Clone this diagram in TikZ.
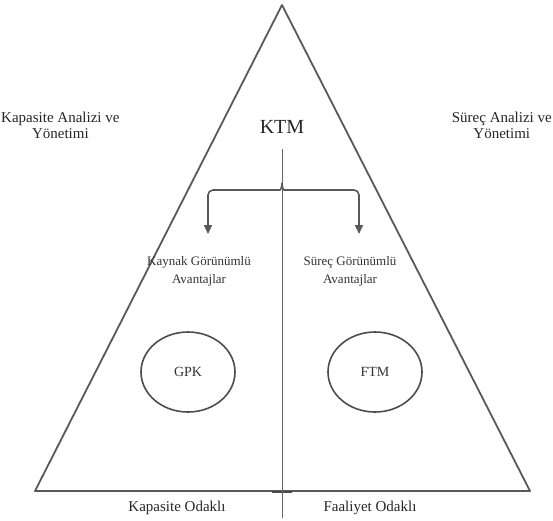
\documentclass[tikz,border=0pt]{standalone}
\usepackage{fontspec}
\setmainfont{Liberation Serif}
\usetikzlibrary{arrows.meta,shapes.geometric}
\begin{document}
\begin{tikzpicture}[x=1pt,y=-1pt,
  tri/.style={draw=black!65, line width=1.8pt, line join=round},
  axis/.style={draw=black!60, line width=0.9pt},
  brk/.style={draw=black!65, line width=1.6pt, rounded corners=5pt, -{Triangle[length=9pt,width=8pt]}},
  lbl/.style={font=\fontsize{13}{18}\selectfont, text=black!80, align=center, inner sep=0pt},
  side/.style={font=\fontsize{15}{16}\selectfont, text=black!85, align=center, inner sep=0pt},
  base/.style={font=\fontsize{15}{16}\selectfont, text=black!85, inner sep=0pt},
  circ/.style={ellipse, draw=black!70, line width=1.6pt, minimum width=94pt, minimum height=80pt, font=\fontsize{14}{16}\selectfont, text=black!80}]
\useasboundingbox (0,0) rectangle (553,520);
% triangle
\coordinate (apex) at (282,5);
\coordinate (bl) at (35,491);
\coordinate (br) at (530,491);
\draw[tri] (apex) -- (br) -- (bl) -- cycle;
% center mark on base
\coordinate (m1) at (272,492);
\coordinate (m2) at (292,492);
\draw[draw=black!70, line width=2.6pt] (m1) -- (m2);
% KTM
\node[font=\fontsize{20}{22}\selectfont, text=black!85, inner sep=0pt] (ktm) at (282,127) {KTM};
\coordinate (top) at (282,149);
\coordinate (bot) at (282,518);
\draw[axis] (top) -- (bot);
% bracket
\coordinate (split) at (282,183);
\coordinate (la) at (208,190);
\coordinate (ra) at (359,190);
\coordinate (lt) at (208,234);
\coordinate (rt) at (359,234);
\draw[brk] (split) .. controls (282,189) and (280,190) .. (275,190) -- (la) -- (lt);
\draw[brk] (split) .. controls (282,189) and (284,190) .. (289,190) -- (ra) -- (rt);
% labels
\node[lbl] (kay) at (199,271) {Kaynak Görünümlü\\Avantajlar};
\node[lbl] (sur) at (350,271) {Süreç Görünümlü\\Avantajlar};
% ellipses
\node[circ] (gpk) at (188,372) {GPK};
\node[circ] (ftm) at (375,372) {FTM};
% side texts
\node[side, anchor=west] (kap) at (1,125) {Kapasite Analizi ve\\Yönetimi};
\node[side, anchor=east] (sa) at (552,125) {Süreç Analizi ve\\Yönetimi};
% bottom
\node[base] (ko) at (177,508) {Kapasite Odaklı};
\node[base] (fo) at (370,508) {Faaliyet Odaklı};
\end{tikzpicture}
\end{document}
